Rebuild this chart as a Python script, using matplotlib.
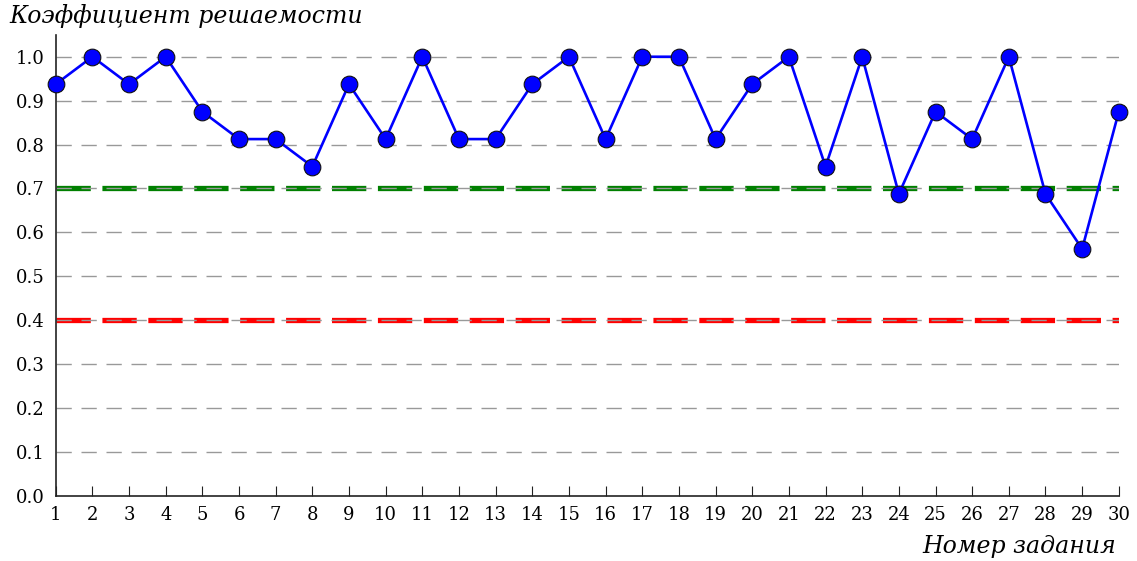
import matplotlib.pyplot as plt

tasks = list(range(1, 31))
solve_rate = [0.9375, 1.0, 0.9375, 1.0, 0.875, 0.8125, 0.8125, 0.75, 0.9375, 0.8125,
              1.0, 0.8125, 0.8125, 0.9375, 1.0, 0.8125, 1.0, 1.0, 0.8125, 0.9375,
              1.0, 0.75, 1.0, 0.6875, 0.875, 0.8125, 1.0, 0.6875, 0.5625, 0.875]
upper_level = 0.7
lower_level = 0.4
yticks = [0.0, 0.1, 0.2, 0.3, 0.4, 0.5, 0.6, 0.7, 0.8, 0.9, 1.0]

plt.rcParams["font.family"] = "DejaVu Serif"

fig = plt.figure(figsize=(11.37, 5.61), dpi=100)
ax = fig.add_axes([0.049, 0.116, 0.935, 0.822])

ax.axhline(upper_level, color="green", linewidth=3.8, dashes=(6.5, 2.2, ), zorder=1)
ax.axhline(lower_level, color="red", linewidth=3.8, dashes=(6.5, 2.2), zorder=1)

for y in yticks[1:]:
    ax.axhline(y, color="#999999", linewidth=1, dashes=(11, 7), zorder=2)

ax.plot(tasks, solve_rate, color="#0000ff", linewidth=1.9, marker="o",
        markersize=12, markerfacecolor="#0000ff", markeredgecolor="#111111",
        markeredgewidth=0.8, zorder=3, clip_on=False)

ax.set_xlim(1, 30)
ax.set_ylim(0, 1.05)
ax.set_xticks(tasks)
ax.set_yticks(yticks)
ax.set_yticklabels([f"{v:.1f}" for v in yticks])
ax.tick_params(axis="x", direction="in", length=7, labelsize=13, pad=7, color="#222222")
ax.tick_params(axis="y", length=0, labelsize=13, pad=8)

for s in ["top", "right"]:
    ax.spines[s].set_visible(False)
for s in ["left", "bottom"]:
    ax.spines[s].set_color("#222222")
    ax.spines[s].set_linewidth(1.2)

fig.text(0.008, 0.993, "Коэффициент решаемости", ha="left", va="top",
         fontsize=17, style="italic")
fig.text(0.982, 0.005, "Номер задания", ha="right", va="bottom",
         fontsize=17, style="italic")

fig.savefig("out.png", dpi=100)
